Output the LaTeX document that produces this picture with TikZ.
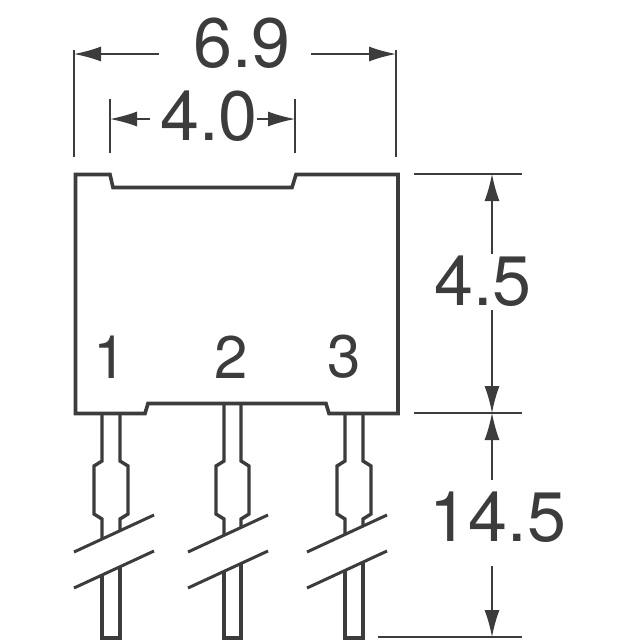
\documentclass[tikz,border=0pt]{standalone}
\usepackage{fontspec}
\setmainfont{TeX Gyre Heros}
\usetikzlibrary{arrows.meta}
\definecolor{ink}{HTML}{3C3C3C}
\tikzset{
  x=1pt,y=-1pt,
  outline/.style={draw=ink,line width=3.6pt,miter limit=10},
  pinline/.style={draw=ink,line width=3.4pt,line join=miter},
  breakline/.style={draw=ink,line width=3pt},
  dimline/.style={draw=ink,line width=1.3pt},
  arrowed/.style={dimline,-{Latex[length=27pt,width=15pt,color=ink]}},
  bigtext/.style={text=ink,font=\fontsize{70}{70}\selectfont,inner sep=0pt},
  midtext/.style={text=ink,font=\fontsize{60}{60}\selectfont,inner sep=0pt},
}
\newcommand{\pinshape}[7]{% l r wl wr breakstart breakend top
  \pgfmathsetmacro{\ul}{552-(#1-#5)*0.4625}
  \pgfmathsetmacro{\ur}{552-(#2-#5)*0.4625}
  \pgfmathsetmacro{\ll}{588-(#1-#5)*0.4625}
  \pgfmathsetmacro{\lr}{588-(#2-#5)*0.4625}
  \draw[pinline] (#1,#7) -- (#1,461) -- (#3,466) -- (#3,514) -- (#1,519) -- (#1,\ul);
  \draw[pinline] (#2,#7) -- (#2,461) -- (#4,466) -- (#4,514) -- (#2,519) -- (#2,\ur);
  \draw[pinline] (#1,\ll) -- (#1,638) -- (#2,638) -- (#2,\lr);
  \draw[breakline] (#5,552) -- (#6,515);
  \draw[breakline] (#5,588) -- (#6,551);
}
\begin{document}
\begin{tikzpicture}
\useasboundingbox (0,0) rectangle (640,640);
% body
\draw[outline] (75.5,174.5) -- (110,174.5) -- (113,187.5) -- (292,187.5) -- (296,174.5)
  -- (398,174.5) -- (398,413.5) -- (329,413.5) -- (326,403.5) -- (148,403.5) -- (145,413.5)
  -- (75.5,413.5) -- cycle;
% pins
\pinshape{102}{120}{94}{128}{74}{154}{413}
\pinshape{224}{241}{216}{249}{188}{268}{403}
\pinshape{345}{363}{337}{371}{307}{387}{413}
% labels
\node[midtext] (n1) at (110,357) {1};
\node[midtext] (n2) at (231,357) {2};
\node[midtext] (n3) at (344,357) {3};
\node[bigtext] (w) at (242,43) {6.9};
\node[bigtext] (p) at (209,116) {4.0};
\node[bigtext] (h) at (483,281) {4.5};
\node[bigtext] (l) at (498,517) {14.5};
% extension coordinates
\coordinate (wl) at (74,54); \coordinate (wr) at (396,54);
\coordinate (pl) at (110,119); \coordinate (pr) at (295,119);
\coordinate (ht) at (492,174); \coordinate (hm) at (492,413); \coordinate (hb) at (492,637);
\draw[dimline] (74,50) -- (74,157);
\draw[dimline] (396,50) -- (396,157);
\draw[dimline] (110,99) -- (110,153);
\draw[dimline] (295,99) -- (295,153);
\draw[dimline] (414,174) -- (522,174);
\draw[dimline] (414,413) -- (522,413);
\draw[dimline] (378,637) -- (522,637);
% dimension arrows
\draw[arrowed] (159,54) -- (wl);
\draw[arrowed] (311,54) -- (wr);
\draw[arrowed] (150,119) -- (pl);
\draw[arrowed] (257,119) -- (pr);
\draw[arrowed] (492,254) -- (ht);
\draw[arrowed] (492,310) -- (hm);
\draw[arrowed] (492,480) -- (hm);
\draw[arrowed] (492,566) -- (hb);
\end{tikzpicture}
\end{document}
